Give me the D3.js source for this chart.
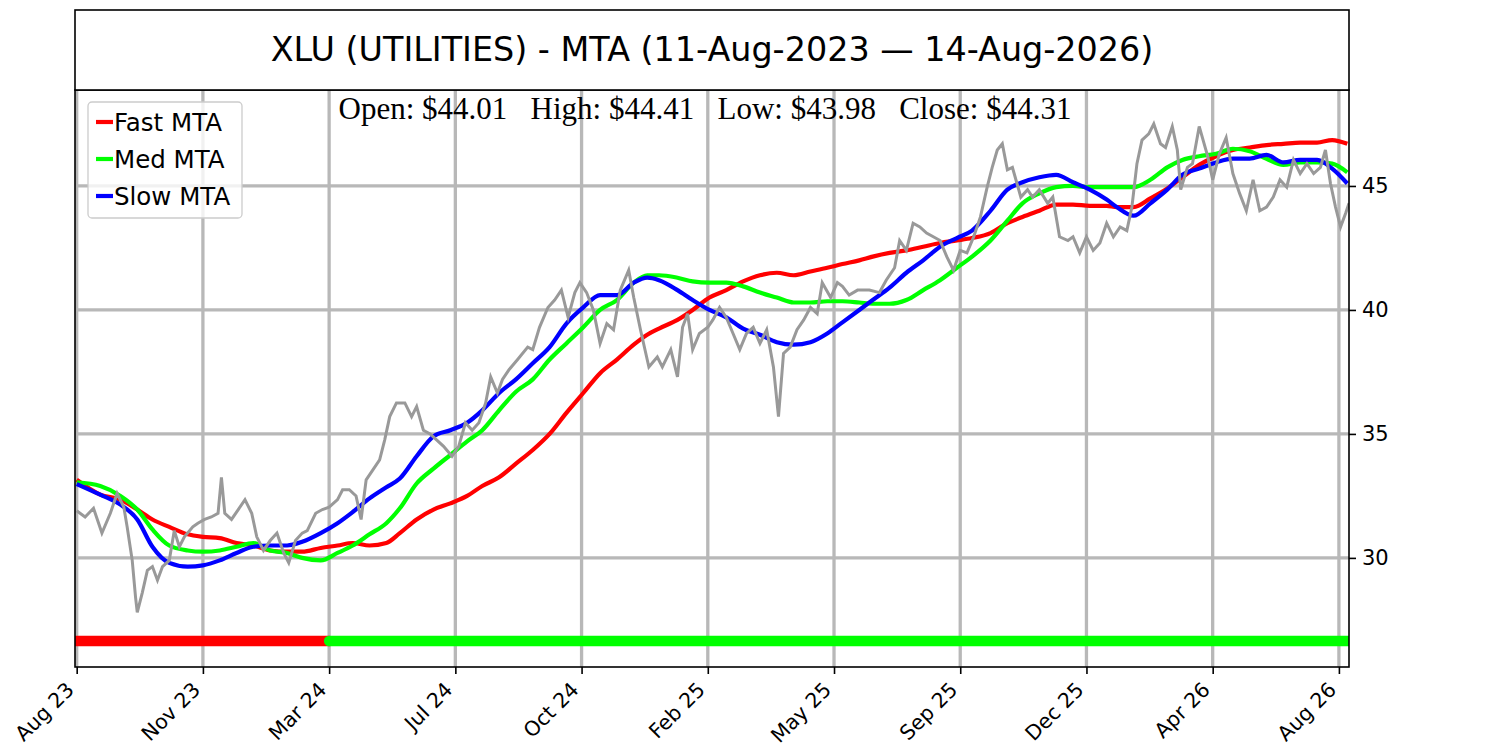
<!DOCTYPE html>
<html>
<head>
<meta charset="utf-8">
<script src="https://cdn.jsdelivr.net/npm/d3@7"></script>
<style>
  html, body { margin: 0; padding: 0; background: #ffffff; }
  svg { display: block; }
</style>
</head>
<body>
<script>
// ---- data ----
const title = "XLU (UTILITIES) - MTA (11-Aug-2023 \u2014 14-Aug-2026)";
const ohlcText = "Open: $44.01   High: $44.41   Low: $43.98   Close: $44.31";

// x axis is bar index (trading days), ticks every 75 bars
const tickBars = [0, 75, 150, 225, 300, 375, 450, 525, 600, 675, 750];
const tickLabels = ["Aug 23", "Nov 23", "Mar 24", "Jul 24", "Oct 24", "Feb 25",
  "May 25", "Sep 25", "Dec 25", "Apr 26", "Aug 26"];
const yTicks = [30, 35, 40, 45];

// price (close) samples
const priceBar = [0, 5, 10, 15, 20, 24, 28, 30, 33, 35, 36, 39, 42, 45, 48, 51, 55, 58, 61, 64,
  69, 72, 76, 80, 84, 86, 88, 92, 96, 100, 104, 107, 111, 115, 119, 123, 126, 130, 134, 137,
  142, 146, 150, 155, 158, 162, 166, 169, 172, 176, 180, 183, 186, 190, 195, 199, 202, 206, 210, 214,
  218, 223, 227, 231, 235, 239, 243, 246, 250, 253, 257, 262, 268, 271, 275, 280, 284, 288, 292, 296,
  299, 303, 307, 311, 315, 319, 323, 328, 331, 335, 340, 345, 348, 353, 357, 360, 363, 366, 370, 375,
  378, 382, 386, 390, 394, 398, 402, 406, 410, 414, 417, 420, 424, 428, 432, 436, 440, 443, 448, 452,
  455, 459, 464, 471, 477, 481, 486, 489, 493, 497, 501, 505, 509, 513, 517, 521, 525, 529, 533, 537,
  541, 544, 547, 550, 553, 556, 561, 565, 568, 572, 577, 580, 584, 589, 592, 596, 600, 604, 608, 612,
  616, 620, 624, 627, 630, 633, 637, 640, 644, 647, 651, 654, 656, 660, 663, 667, 672, 675, 679, 683,
  687, 691, 695, 699, 703, 707, 711, 715, 719, 723, 727, 731, 735, 739, 742, 745, 748, 751, 754, 756];
const priceVal = [31.9, 31.65, 32.0, 31.0, 31.8, 32.6, 32.05, 31.25, 29.9, 28.4, 27.8, 28.6, 29.5, 29.65, 29.1, 29.65, 29.9, 31.1, 30.45, 30.85,
  31.25, 31.4, 31.55, 31.65, 31.8, 33.25, 31.8, 31.55, 31.95, 32.35, 31.8, 30.85, 30.3, 30.7, 31.0, 30.2, 29.8, 30.7, 31.0, 31.1,
  31.8, 31.95, 32.05, 32.35, 32.75, 32.75, 32.5, 31.55, 33.15, 33.55, 33.95, 34.75, 35.7, 36.25, 36.25, 35.7, 36.1, 35.15, 35.0, 34.75,
  34.5, 34.1, 34.5, 35.45, 35.15, 35.45, 36.25, 37.3, 36.65, 37.2, 37.6, 38.0, 38.5, 38.4, 39.3, 40.1, 40.4, 40.8, 39.7, 40.7,
  41.1, 40.7, 40.0, 38.65, 39.45, 39.2, 40.8, 41.6, 40.5, 39.2, 37.7, 38.1, 37.7, 38.4, 37.3, 39.3, 39.85, 38.4, 39.05, 39.3,
  39.6, 40.1, 39.7, 39.05, 38.4, 39.05, 39.3, 38.65, 39.2, 37.7, 35.7, 38.25, 38.5, 39.2, 39.6, 40.1, 39.85, 41.1, 40.5, 41.1,
  40.95, 40.6, 40.8, 40.8, 40.7, 41.2, 41.7, 42.8, 42.4, 43.5, 43.35, 43.1, 42.95, 42.8, 42.15, 41.6, 42.4, 42.3, 42.95, 43.75,
  44.95, 45.75, 46.45, 46.7, 45.65, 45.75, 44.55, 44.85, 44.55, 44.85, 44.3, 44.55, 42.95, 42.8, 42.95, 42.3, 42.95, 42.4, 42.7, 43.5,
  42.95, 43.35, 43.2, 44.15, 45.9, 46.85, 47.1, 47.5, 46.7, 46.55, 47.4, 46.45, 44.85, 45.75, 45.9, 47.4, 46.2, 45.25, 46.3, 46.95,
  45.5, 44.7, 44.0, 45.25, 44.0, 44.15, 44.55, 45.25, 44.95, 46.05, 45.5, 45.9, 45.5, 45.75, 46.45, 45.1, 44.15, 43.35, 43.9, 44.3];

// moving trend averages, sampled at shared bar indices
const maBar = [0, 14, 26, 36, 45, 55, 66, 75, 85, 95, 105, 115, 125, 134, 145, 155, 164, 174, 184, 192,
  202, 212, 222, 232, 241, 251, 261, 271, 281, 291, 301, 311, 321, 331, 339, 346, 357, 366, 376, 386,
  396, 406, 416, 426, 436, 446, 455, 465, 473, 483, 493, 503, 513, 523, 532, 543, 553, 562, 572, 582,
  592, 602, 612, 618, 628, 638, 648, 657, 667, 677, 687, 697, 707, 717, 727, 737, 746, 755];
const fastMTA = [33.15, 32.55, 32.35, 31.95, 31.55, 31.25, 30.95, 30.85, 30.8, 30.6, 30.5, 30.3, 30.25, 30.25, 30.4, 30.5, 30.6, 30.5, 30.6, 31.0,
  31.55, 31.95, 32.2, 32.5, 32.9, 33.25, 33.8, 34.35, 35.0, 35.85, 36.65, 37.45, 38.0, 38.6, 39.0, 39.25, 39.6, 40.0, 40.5, 40.8,
  41.15, 41.4, 41.5, 41.4, 41.55, 41.7, 41.85, 42.0, 42.15, 42.3, 42.4, 42.55, 42.7, 42.8, 42.9, 43.1, 43.5, 43.75, 44.0, 44.25,
  44.25, 44.2, 44.2, 44.15, 44.15, 44.5, 44.9, 45.35, 45.85, 46.2, 46.45, 46.55, 46.65, 46.7, 46.75, 46.75, 46.85, 46.7];
const medMTA = [33.05, 32.9, 32.5, 31.95, 31.15, 30.5, 30.3, 30.25, 30.3, 30.45, 30.6, 30.3, 30.2, 30.0, 29.9, 30.2, 30.5, 30.95, 31.4, 32.0,
  33.0, 33.6, 34.15, 34.7, 35.15, 35.95, 36.7, 37.2, 38.0, 38.65, 39.3, 40.0, 40.4, 41.1, 41.4, 41.4, 41.3, 41.15, 41.1, 41.1,
  40.95, 40.7, 40.5, 40.3, 40.3, 40.35, 40.35, 40.3, 40.25, 40.25, 40.4, 40.8, 41.2, 41.7, 42.15, 42.8, 43.6, 44.3, 44.7, 44.95,
  45.0, 44.95, 44.95, 44.95, 44.95, 45.25, 45.75, 46.05, 46.2, 46.3, 46.5, 46.4, 46.1, 45.85, 45.95, 45.95, 45.9, 45.55];
const slowMTA = [32.98, 32.55, 32.15, 31.55, 30.45, 29.8, 29.65, 29.7, 29.9, 30.2, 30.45, 30.5, 30.5, 30.65, 31.0, 31.4, 31.85, 32.4, 32.85, 33.2,
  34.1, 34.9, 35.15, 35.45, 35.95, 36.65, 37.2, 37.85, 38.5, 39.45, 40.1, 40.6, 40.6, 41.1, 41.3, 41.2, 40.8, 40.4, 40.0, 39.7,
  39.25, 39.0, 38.7, 38.6, 38.7, 39.05, 39.5, 40.0, 40.4, 40.9, 41.5, 42.0, 42.55, 42.9, 43.2, 44.0, 44.85, 45.15, 45.35, 45.45,
  45.15, 44.85, 44.45, 44.15, 43.8, 44.3, 44.85, 45.45, 45.7, 45.95, 46.1, 46.1, 46.25, 45.95, 46.05, 46.05, 45.7, 45.1];

// trend state strip along the bottom
const stateFrom = [0, 150];
const stateTo = [150, 756];
const stateName = ["down", "up"];
const stateLevel = 26.65;

const seriesNames = ["Fast MTA", "Med MTA", "Slow MTA"];

// ---- layout ----
const W = 1500, H = 750;
const plot = { left: 75, right: 1349, top: 90, bottom: 667 };
const font = "'DejaVu Sans', Verdana, sans-serif";
const gridColor = "#b8b8b8";
const seriesColor = { "Fast MTA": "#ff0000", "Med MTA": "#00ff00", "Slow MTA": "#0000ff" };
const stateColor = { down: "#ff0000", up: "#00ff00" };

const svg = d3.select("body").append("svg")
  .attr("width", W).attr("height", H)
  .attr("viewBox", `0 0 ${W} ${H}`);

svg.append("rect").attr("width", W).attr("height", H).attr("fill", "#ffffff");

const x = d3.scaleLinear().domain([-1, 756]).range([plot.left, plot.right]);
const y = d3.scaleLinear().domain([25.6, 48.87]).range([plot.bottom, plot.top]);

svg.append("clipPath").attr("id", "plotClip")
  .append("rect")
  .attr("x", plot.left).attr("y", plot.top)
  .attr("width", plot.right - plot.left).attr("height", plot.bottom - plot.top);

// grid
const grid = svg.append("g");
grid.selectAll("line.v").data(tickBars).join("line")
  .attr("x1", (d) => x(d)).attr("x2", (d) => x(d))
  .attr("y1", plot.top).attr("y2", plot.bottom)
  .attr("stroke", gridColor).attr("stroke-width", 3.3);
grid.selectAll("line.h").data(yTicks).join("line")
  .attr("x1", plot.left).attr("x2", plot.right)
  .attr("y1", (d) => y(d)).attr("y2", (d) => y(d))
  .attr("stroke", gridColor).attr("stroke-width", 3.3);

const data = svg.append("g").attr("clip-path", "url(#plotClip)");

// trend state strip
data.selectAll("line.state").data(stateName).join("line")
  .attr("x1", (d, i) => x(stateFrom[i]) - (i === 0 ? 10 : 0))
  .attr("x2", (d, i) => x(stateTo[i]) + (i === stateName.length - 1 ? 10 : 0))
  .attr("y1", y(stateLevel)).attr("y2", y(stateLevel))
  .attr("stroke", (d) => stateColor[d])
  .attr("stroke-width", 10.5)
  .attr("stroke-linecap", "round");

// moving averages
const maLine = d3.line()
  .x((d) => x(d[0]))
  .y((d) => y(d[1]))
  .curve(d3.curveMonotoneX);

[fastMTA, medMTA, slowMTA].forEach((vals, i) => {
  data.append("path")
    .datum(vals.map((v, j) => [maBar[j], v]))
    .attr("d", maLine)
    .attr("fill", "none")
    .attr("stroke", seriesColor[seriesNames[i]])
    .attr("stroke-width", 4.2)
    .attr("stroke-linejoin", "round");
});

// price
const priceLine = d3.line()
  .x((d) => x(d[0]))
  .y((d) => y(d[1]))
  .curve(d3.curveLinear);

data.append("path")
  .datum(priceVal.map((v, j) => [priceBar[j], v]))
  .attr("d", priceLine)
  .attr("fill", "none")
  .attr("stroke", "#999999")
  .attr("stroke-width", 3)
  .attr("stroke-linejoin", "miter");

// axes
const yAxis = svg.append("g")
  .attr("transform", `translate(${plot.right},0)`)
  .call(d3.axisRight(y).tickValues(yTicks).tickSize(7).tickPadding(6).tickFormat(d3.format("d")));
yAxis.select(".domain").remove();
yAxis.selectAll("line").attr("stroke", "#000").attr("stroke-width", 1.6);
yAxis.selectAll("text").attr("font-family", font).attr("font-size", 21).attr("fill", "#000");

const xAxis = svg.append("g")
  .attr("transform", `translate(0,${plot.bottom})`)
  .call(d3.axisBottom(x).tickValues(tickBars).tickSize(7).tickFormat((d, i) => tickLabels[i]));
xAxis.select(".domain").remove();
xAxis.selectAll("line").attr("stroke", "#000").attr("stroke-width", 1.6);
xAxis.selectAll("text")
  .attr("font-family", font).attr("font-size", 20.5).attr("fill", "#000")
  .attr("text-anchor", "end")
  .attr("dy", null)
  .attr("y", null)
  .attr("transform", "translate(-2,24) rotate(-45)");

// spines
svg.append("rect")
  .attr("x", plot.left).attr("y", plot.top)
  .attr("width", plot.right - plot.left).attr("height", plot.bottom - plot.top)
  .attr("fill", "none").attr("stroke", "#000").attr("stroke-width", 1.6);

// title box
svg.append("rect")
  .attr("x", plot.left).attr("y", 10)
  .attr("width", plot.right - plot.left).attr("height", plot.top - 10)
  .attr("fill", "#fff").attr("stroke", "#000").attr("stroke-width", 1.6);
svg.append("text")
  .attr("x", (plot.left + plot.right) / 2).attr("y", 61)
  .attr("text-anchor", "middle")
  .attr("font-family", font).attr("font-size", 33.4)
  .attr("fill", "#000")
  .text(title);

// OHLC readout
svg.append("text")
  .attr("x", 705).attr("y", 119)
  .attr("text-anchor", "middle")
  .attr("font-family", "'Liberation Serif', 'Times New Roman', serif")
  .attr("font-size", 31)
  .attr("fill", "#000")
  .style("white-space", "pre")
  .text(ohlcText);

// legend
const legend = svg.append("g").attr("transform", "translate(88,102)");
legend.append("rect")
  .attr("width", 154).attr("height", 116).attr("rx", 4)
  .attr("fill", "#ffffff").attr("fill-opacity", 0.8)
  .attr("stroke", "#cccccc").attr("stroke-width", 1.3);
const rows = legend.selectAll("g.row").data(seriesNames).join("g")
  .attr("transform", (d, i) => `translate(0,${20 + i * 37})`);
rows.append("line")
  .attr("x1", 8).attr("x2", 25)
  .attr("stroke", (d) => seriesColor[d]).attr("stroke-width", 4.2);
rows.append("text")
  .attr("x", 26).attr("y", 8.5)
  .attr("font-family", font).attr("font-size", 24.5)
  .attr("fill", "#000")
  .text((d) => d);
</script>
</body>
</html>
